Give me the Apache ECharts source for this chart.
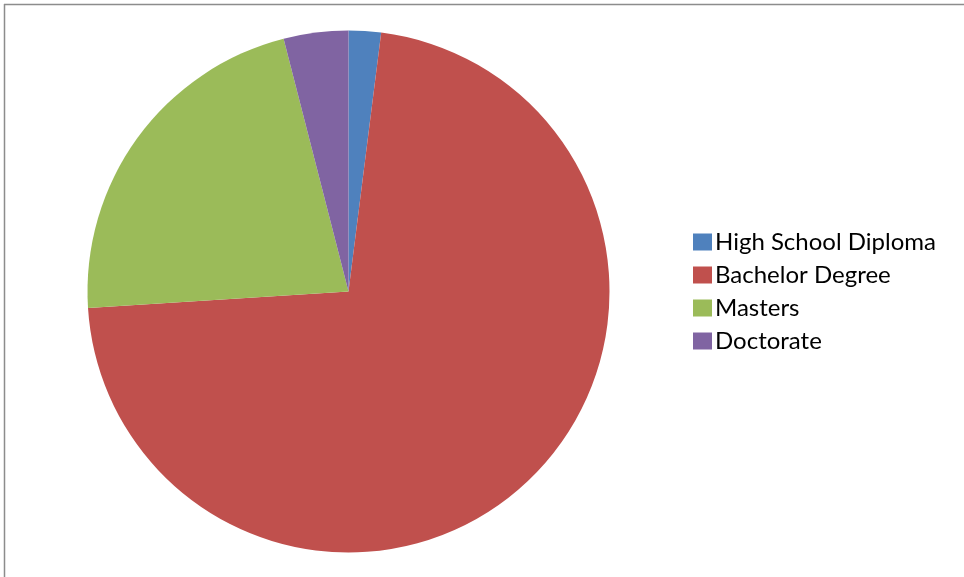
<!DOCTYPE html>
<html>
<head>
<meta charset="utf-8">
<script src="https://cdn.jsdelivr.net/npm/echarts@6/dist/echarts.min.js"></script>
<style>
  html, body { margin: 0; padding: 0; background: #ffffff; }
  #chart { width: 964px; height: 577px; }
</style>
</head>
<body>
<div id="chart"></div>
<script>
// Highest level of education
const categories = ['High School Diploma', 'Bachelor Degree', 'Masters', 'Doctorate'];
const shares = [2, 72, 22, 4];
const palette = ['#4F81BD', '#C0504D', '#9BBB59', '#8064A2'];

const chart = echarts.init(document.getElementById('chart'), null, { renderer: 'canvas' });

chart.setOption({
  animation: false,
  backgroundColor: '#ffffff',
  color: palette,
  legend: {
    orient: 'vertical',
    left: 693,
    top: 230,
    padding: 0,
    icon: 'rect',
    itemWidth: 19,
    itemHeight: 17,
    itemGap: 9,
    selectedMode: false,
    textStyle: {
      fontFamily: 'Lato',
      fontSize: 24,
      lineHeight: 24,
      color: '#000000',
      padding: [0, 0, 0, -2]
    },
    data: categories
  },
  graphic: [
    { type: 'line', shape: { x1: 4, y1: 4.5, x2: 964, y2: 4.5 }, style: { stroke: '#8c8c8c', lineWidth: 1.5 }, silent: true },
    { type: 'line', shape: { x1: 4.5, y1: 4, x2: 4.5, y2: 577 }, style: { stroke: '#8c8c8c', lineWidth: 1.5 }, silent: true }
  ],
  series: [{
    type: 'pie',
    center: [348.5, 291.5],
    radius: 261,
    startAngle: 90,
    clockwise: true,
    label: { show: false },
    labelLine: { show: false },
    itemStyle: { borderWidth: 0 },
    emphasis: { disabled: true },
    data: categories.map((name, i) => ({ name, value: shares[i] }))
  }]
});
</script>
</body>
</html>
